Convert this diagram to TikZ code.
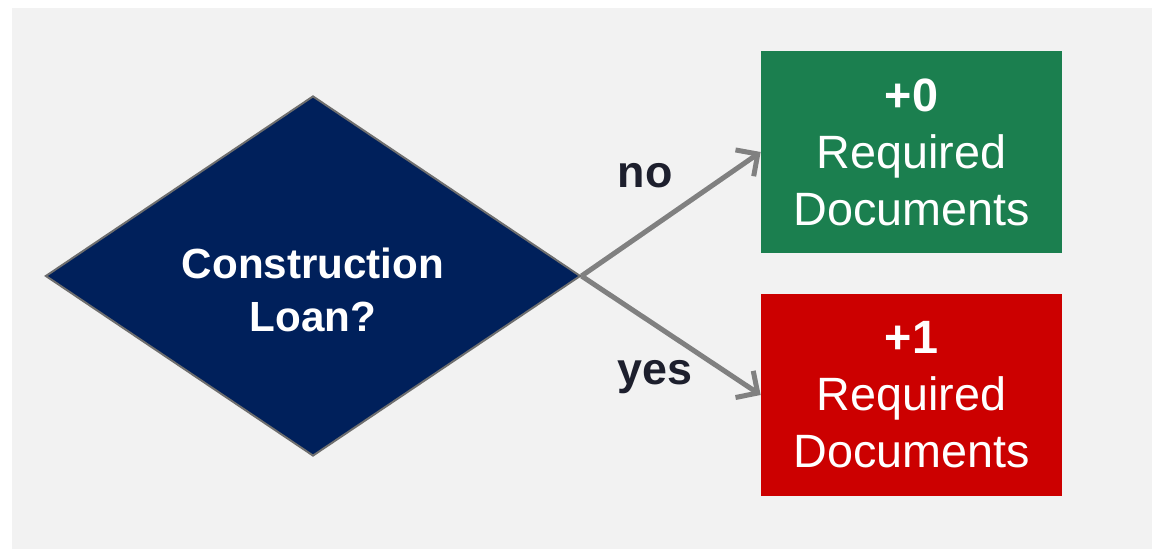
\documentclass[tikz,border=0pt]{standalone}
\usepackage{fontspec}
\setmainfont{Liberation Sans}
\usetikzlibrary{shapes.geometric,arrows.meta}
\definecolor{bggray}{RGB}{242,242,242}
\definecolor{loannavy}{RGB}{0,32,91}
\definecolor{okgreen}{RGB}{27,127,79}
\definecolor{addred}{RGB}{204,0,0}
\definecolor{labelink}{RGB}{29,31,45}
\begin{document}
\begin{tikzpicture}[
		result/.style={minimum width=6.02cm, minimum height=4.04cm, inner sep=0pt, text=white, align=center, font=\fontsize{26.6}{32.4}\selectfont},
		branch/.style={-{Straight Barb[length=0.32cm, width=0.64cm]}, line width=0.1cm, draw=gray},
		answer/.style={text=labelink, font=\fontsize{25.5}{30}\selectfont\bfseries}
	]
		\useasboundingbox (0,0) rectangle (23.12,10.98);
		\fill[bggray] (0.24,0) rectangle (23.04,10.82);
		% decision
		\node[diamond, draw={rgb,255:red,110;green,110;blue,110}, line width=0.04cm, fill=loannavy, minimum width=10.7cm, minimum height=7.2cm, inner sep=0pt] (loan) at (6.26,5.46) {};
		\node[text=white, align=center, font=\fontsize{24}{29.8}\selectfont\bfseries] (loantext) at ([yshift=-0.28cm]loan.center) {Construction\\Loan?};
		% outcomes
		\node[result, fill=okgreen] (nodoc) at (18.23,7.94) {{\bfseries +0}\\Required\\Documents};
		\node[result, fill=addred] (onedoc) at (18.23,3.08) {{\bfseries +1}\\Required\\Documents};
		\draw[branch] (loan.east) -- (nodoc.west);
		\draw[branch] (loan.east) -- (onedoc.west);
		\node[answer] (no) at (12.9,7.46) {no};
		\node[answer] (yes) at (13.1,3.44) {yes};
	\end{tikzpicture}
\end{document}
